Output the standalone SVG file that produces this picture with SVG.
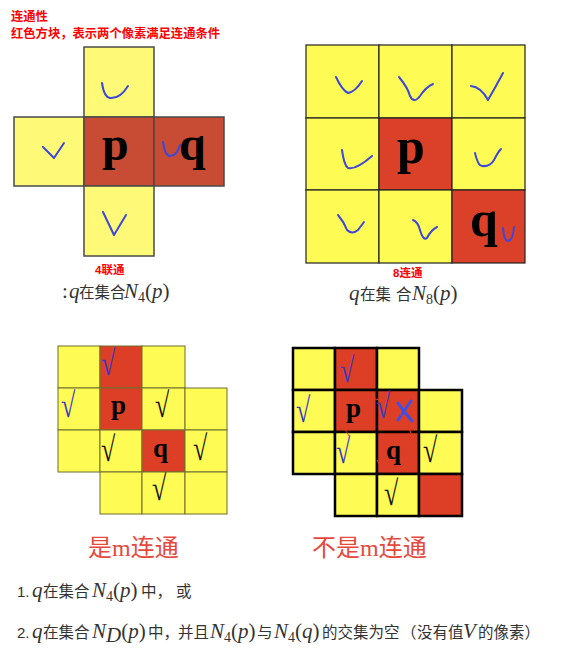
<svg xmlns="http://www.w3.org/2000/svg" width="568" height="655" viewBox="0 0 568 655">
<style>
.cjk{font-family:"Noto Sans CJK SC","Noto Sans",sans-serif}
.ttl{font-family:"Noto Sans CJK SC",sans-serif;font-weight:bold;fill:#ff0000;font-size:12.3px}
.lbl{font-family:"Liberation Sans","Noto Sans CJK SC",sans-serif;font-weight:bold;fill:#ff0000;font-size:11.5px}
.m{font-family:"Liberation Serif",serif;font-style:italic;font-size:21px}
.r{font-family:"Liberation Serif",serif;font-style:normal;font-size:21px}
.big{font-family:"Liberation Serif",serif;font-weight:bold;fill:#000}
.y1{fill:#fef977;stroke:#4a4a4a;stroke-width:1.5}
.r1{fill:#c84c33;stroke:#4a4a4a;stroke-width:1.5}
.y2{fill:#fffb55;stroke:#222;stroke-width:1.2}
.r2{fill:#da4128;stroke:#222;stroke-width:1.2}
.y3{fill:#fffb55;stroke:#6e6e2e;stroke-width:1}
.r3{fill:#dc3f26;stroke:#6e6e2e;stroke-width:1}
.y4{fill:#fffb55;stroke:#000;stroke-width:2.5}
.r4{fill:#dc3f26;stroke:#000;stroke-width:2.5}
.hand{fill:none;stroke:#3c48d8;stroke-width:2;stroke-linecap:round;stroke-linejoin:round}
.ck{font-family:"Liberation Serif","DejaVu Serif",serif;font-size:26px}
.blue{fill:#3838c8}
.blk{fill:#111}
.cap{font-family:"Liberation Serif","Noto Sans CJK SC",serif;fill:#e6483c;font-size:24px}
.txt{fill:#333}
.c15{font-family:"Noto Sans CJK SC","Noto Sans",sans-serif;font-size:15.5px}
.sub{font-family:"Liberation Serif",serif;font-size:14px}
</style>

<g id="title">
<text class="ttl" x="11" y="20.5">连通性</text>
<text class="ttl" x="11" y="37.5">红色方块，表示两个像素满足连通条件</text>
</g>

<!-- Figure 1: 4-connectivity -->
<g id="fig-n4">
<g id="n4-top"><rect class="y1" x="84" y="47" width="70" height="70"/><path class="hand" d="M102,83 Q104,97 110,98 Q120,99 128,86"/></g>
<g id="n4-left"><rect class="y1" x="14" y="117" width="70" height="69"/><path class="hand" d="M43,147 L54,158 L64,143"/></g>
<g id="n4-p"><rect class="r1" x="84" y="117" width="70" height="69"/><text class="big" x="102" y="160" font-size="48">p</text></g>
<g id="n4-q"><rect class="r1" x="154" y="117" width="70" height="69"/><path class="hand" d="M163,142 Q165,156 170,156 Q177,156 180,145"/><text class="big" x="179" y="160" font-size="48">q</text></g>
<g id="n4-bottom"><rect class="y1" x="84" y="186" width="70" height="70"/><path class="hand" d="M103,212 L114,235 L126,215"/></g>
<text class="lbl" x="95" y="274">4联通</text>
<text y="298" class="txt"><tspan class="r" x="62" font-size="13">:</tspan><tspan class="m" x="69">q</tspan><tspan class="c15" x="79" font-size="15">在集合</tspan><tspan class="m" x="124">N</tspan><tspan class="sub" dy="4">4</tspan><tspan class="r" dy="-4">(</tspan><tspan class="m">p</tspan><tspan class="r">)</tspan></text>
</g>

<!-- Figure 2: 8-connectivity -->
<g id="fig-n8">
<g id="n8-00"><rect class="y2" x="306" y="45" width="73" height="73"/><path class="hand" d="M336,77 Q342,90 348,93 Q355,92 362,81"/></g>
<g id="n8-01"><rect class="y2" x="379" y="45" width="73" height="73"/><path class="hand" d="M399,77 Q408,88 410,96 Q414,104 420,96 Q426,87 433,84"/></g>
<g id="n8-02"><rect class="y2" x="452" y="45" width="73" height="73"/><path class="hand" d="M471,86 Q481,87 488,100 Q495,88 503,73"/></g>
<g id="n8-10"><rect class="y2" x="306" y="118" width="73" height="72"/><path class="hand" d="M342,150 Q344,165 348,168 Q356,170 372,156"/></g>
<g id="n8-p"><rect class="r2" x="379" y="118" width="73" height="72"/><text class="big" x="397" y="163" font-size="50">p</text></g>
<g id="n8-12"><rect class="y2" x="452" y="118" width="73" height="72"/><path class="hand" d="M475,153 Q478,166 482,166 Q490,167 494,160 Q498,152 501,149"/></g>
<g id="n8-20"><rect class="y2" x="306" y="190" width="73" height="73"/><path class="hand" d="M338,215 Q344,222 347,230 Q352,235 358,230 L364,222"/></g>
<g id="n8-21"><rect class="y2" x="379" y="190" width="73" height="73"/><path class="hand" d="M413,220 Q418,222 420,230 Q423,241 427,238 Q431,230 437,227"/></g>
<g id="n8-q"><rect class="r2" x="452" y="190" width="73" height="73"/><text class="big" x="470" y="236" font-size="50">q</text><path class="hand" d="M503,228 Q504,241 508,241 Q513,240 514,227"/></g>
<text class="lbl" x="393" y="277">8连通</text>
<text y="300" class="txt"><tspan class="m" x="349">q</tspan><tspan class="c15" x="360" font-size="16">在集</tspan><tspan class="c15" x="396" font-size="16">合</tspan><tspan class="m" x="412">N</tspan><tspan class="sub" dy="4">8</tspan><tspan class="r" dy="-4">(</tspan><tspan class="m">p</tspan><tspan class="r">)</tspan></text>
</g>

<!-- Figure 3: m-connected -->
<g id="fig-m-yes">
<g id="m1-00"><rect class="y3" x="58" y="346" width="42" height="42"/></g>
<g id="m1-01"><rect class="r3" x="100" y="346" width="42" height="42"/><text class="ck blue" transform="translate(101,375) scale(1,1.35)">√</text></g>
<g id="m1-02"><rect class="y3" x="142" y="346" width="43" height="42"/></g>
<g id="m1-10"><rect class="y3" x="58" y="388" width="42" height="42"/><text class="ck blue" transform="translate(61,417) scale(1,1.35)">√</text></g>
<g id="m1-p"><rect class="r3" x="100" y="388" width="42" height="42"/><text class="big" x="111" y="414" font-size="27">p</text></g>
<g id="m1-12"><rect class="y3" x="142" y="388" width="43" height="42"/><text class="ck blk" transform="translate(155,417) scale(1,1.35)">√</text></g>
<g id="m1-13"><rect class="y3" x="185" y="388" width="42" height="42"/></g>
<g id="m1-20"><rect class="y3" x="58" y="430" width="42" height="42"/></g>
<g id="m1-21"><rect class="y3" x="100" y="430" width="42" height="42"/><text class="ck blk" transform="translate(101,461) scale(1,1.35)">√</text></g>
<g id="m1-q"><rect class="r3" x="142" y="430" width="43" height="42"/><text class="big" x="153" y="457" font-size="27">q</text></g>
<g id="m1-23"><rect class="y3" x="185" y="430" width="42" height="42"/><text class="ck blk" transform="translate(193,460) scale(1,1.35)">√</text></g>
<g id="m1-31"><rect class="y3" x="100" y="472" width="42" height="42"/></g>
<g id="m1-32"><rect class="y3" x="142" y="472" width="43" height="42"/><text class="ck blk" transform="translate(152,500) scale(1,1.35)">√</text></g>
<g id="m1-33"><rect class="y3" x="185" y="472" width="42" height="42"/></g>
<text class="cap" x="88" y="556">是m连通</text>
</g>

<!-- Figure 4: not m-connected -->
<g id="fig-m-no">
<g id="m2-00"><rect class="y4" x="293" y="348" width="42" height="42"/></g>
<g id="m2-01"><rect class="r4" x="335" y="348" width="42" height="42"/><text class="ck blue" transform="translate(340,382) scale(1,1.35)">√</text></g>
<g id="m2-02"><rect class="y4" x="377" y="348" width="42" height="42"/></g>
<g id="m2-10"><rect class="y4" x="293" y="390" width="42" height="42"/><text class="ck blue" transform="translate(296,422) scale(1,1.35)">√</text></g>
<g id="m2-p"><rect class="r4" x="335" y="390" width="42" height="42"/><text class="big" x="346" y="417" font-size="27">p</text></g>
<g id="m2-12"><rect class="r4" x="377" y="390" width="42" height="42"/><text class="ck blue" transform="translate(376,418) scale(1,1.35)">√</text><path fill="none" stroke="#3a50e8" stroke-width="3" stroke-linecap="round" d="M398,403 Q404,412 412,421 M411,401 Q404,411 398,420"/></g>
<g id="m2-13"><rect class="y4" x="419" y="390" width="43" height="42"/></g>
<g id="m2-20"><rect class="y4" x="293" y="432" width="42" height="42"/></g>
<g id="m2-21"><rect class="y4" x="335" y="432" width="42" height="42"/><text class="ck blue" transform="translate(336,463) scale(1,1.35)">√</text></g>
<g id="m2-q"><rect class="r4" x="377" y="432" width="42" height="42"/><text class="big" x="386" y="459" font-size="27">q</text></g>
<g id="m2-23"><rect class="y4" x="419" y="432" width="43" height="42"/><text class="ck blk" transform="translate(423,462) scale(1,1.35)">√</text></g>
<g id="m2-31"><rect class="y4" x="335" y="474" width="42" height="42"/></g>
<g id="m2-32"><rect class="y4" x="377" y="474" width="42" height="42"/><text class="ck blk" transform="translate(384,505) scale(1,1.35)">√</text></g>
<g id="m2-33"><rect class="r4" x="419" y="474" width="43" height="42"/></g>
<g id="connectors">
<path fill="none" stroke="#e83a28" stroke-width="1" d="M349,436 C342,425 335,408 339,399 C345,392 372,396 390,404 C402,412 412,428 414,447"/>
<path fill="none" stroke="#e83a28" stroke-width="1" d="M377,460 L379,464 L382,463"/>
</g>
<text class="cap" x="312" y="556">不是m连通</text>
</g>

<!-- Conditions text -->
<g id="conditions" class="txt">
<text y="597"><tspan font-family="Liberation Sans,sans-serif" font-size="15" x="17">1.</tspan><tspan class="m" x="32">q</tspan><tspan class="c15" x="43">在集合</tspan><tspan class="m" x="92">N</tspan><tspan class="sub" dy="4">4</tspan><tspan class="r" dy="-4">(</tspan><tspan class="m">p</tspan><tspan class="r">)</tspan><tspan class="c15" x="141">中，</tspan><tspan class="c15" x="176">或</tspan></text>
<text y="638"><tspan font-family="Liberation Sans,sans-serif" font-size="15" x="17">2.</tspan><tspan class="m" x="32">q</tspan><tspan class="c15" x="43">在集合</tspan><tspan class="m" x="92">N</tspan><tspan class="m" dy="4" font-size="14">D</tspan><tspan class="r" dy="-4">(</tspan><tspan class="m">p</tspan><tspan class="r">)</tspan><tspan class="c15" x="148">中，</tspan><tspan class="c15" x="178">并且</tspan><tspan class="m" x="210">N</tspan><tspan class="sub" dy="4">4</tspan><tspan class="r" dy="-4">(</tspan><tspan class="m">p</tspan><tspan class="r">)</tspan><tspan class="c15" x="257">与</tspan><tspan class="m" x="274">N</tspan><tspan class="sub" dy="4">4</tspan><tspan class="r" dy="-4">(</tspan><tspan class="m">q</tspan><tspan class="r">)</tspan><tspan class="c15" x="322">的交集为空</tspan><tspan class="c15" x="401">（</tspan><tspan class="c15" x="417" font-size="14">没有值</tspan><tspan class="m" x="463">V</tspan><tspan class="c15" x="478">的像素）</tspan></text>
</g>
</svg>
